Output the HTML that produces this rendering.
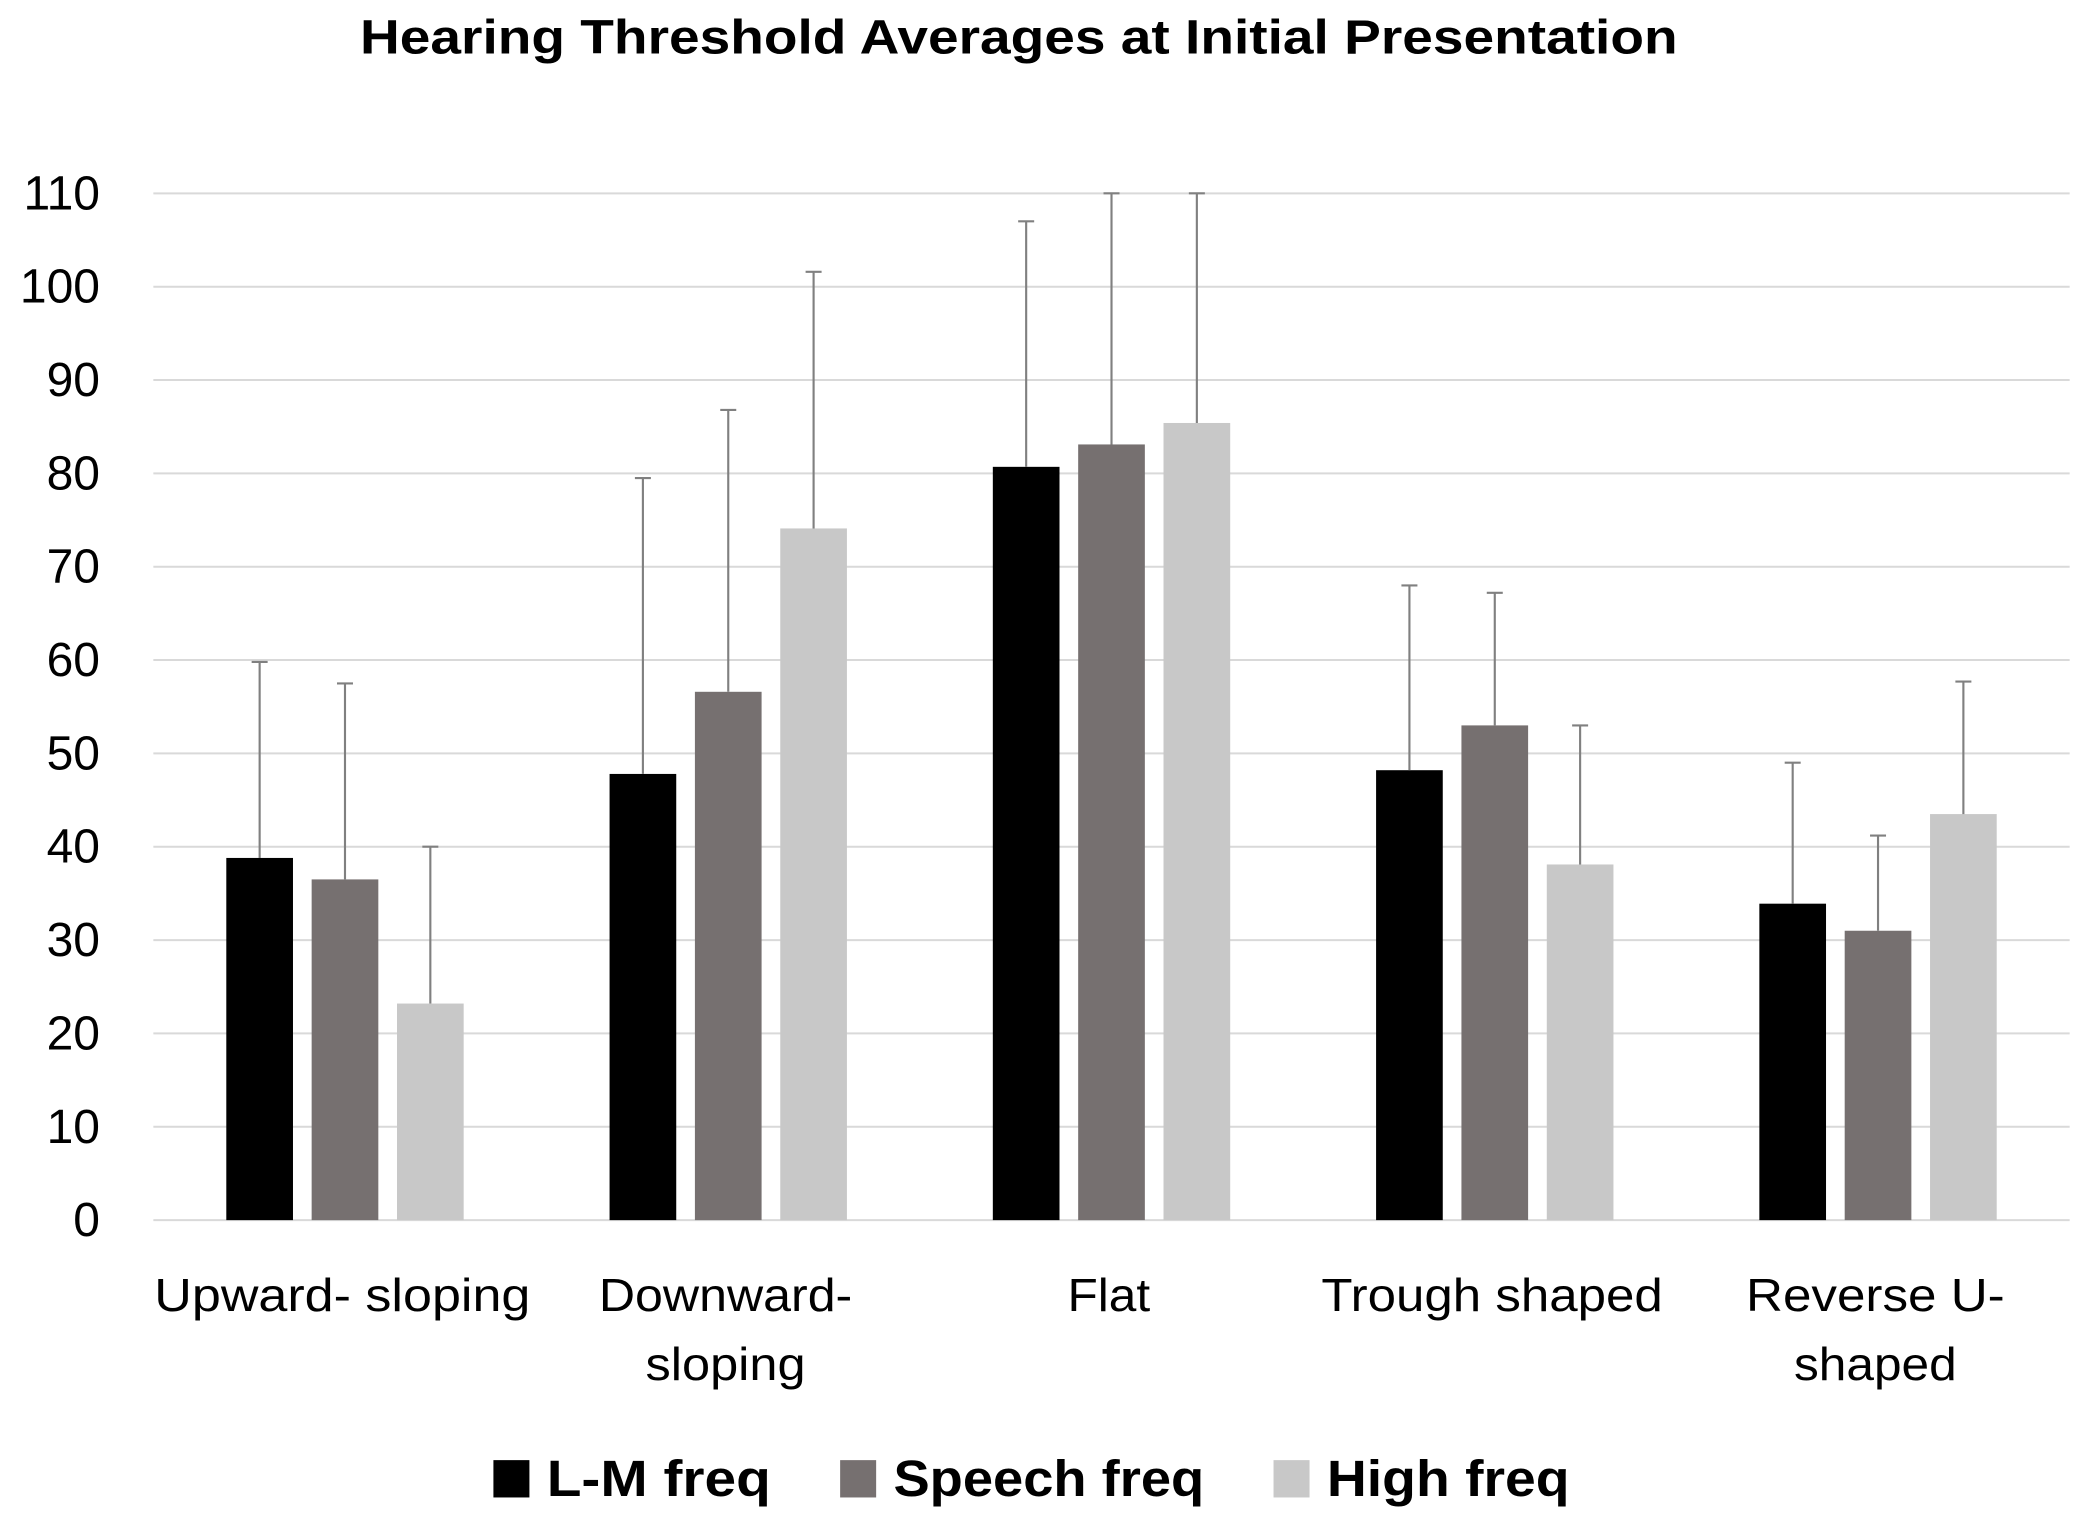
<!DOCTYPE html>
<html><head><meta charset="utf-8"><style>
html,body{margin:0;padding:0;background:#fff;}
svg{display:block;}
text{font-family:"Liberation Sans",sans-serif;}
</style></head><body>
<svg id="chart" width="2091" height="1514" viewBox="0 0 1568 1135.4" preserveAspectRatio="none" xmlns="http://www.w3.org/2000/svg">
<rect width="1568" height="1136" fill="#fff"/>
<text x="764" y="40" text-anchor="middle" font-size="36" font-weight="bold" textLength="988" lengthAdjust="spacingAndGlyphs">Hearing Threshold Averages at Initial Presentation</text>
<g id="grid"></g>
<g id="yticks"></g>
<g id="bars"></g>
<g id="xlabels"></g>
<g id="legend"></g>
</svg>
<script>
const categories = [["Upward- sloping"],["Downward-","sloping"],["Flat"],["Trough shaped"],["Reverse  U-","shaped"]];
const seriesNames = ["L-M freq","Speech freq","High freq"];
const lmValues = [38.8, 47.8, 80.7, 48.2, 33.9];
const speechValues = [36.5, 56.6, 83.1, 53.0, 31.0];
const highValues = [23.2, 74.1, 85.4, 38.1, 43.5];
const lmErrTop = [59.8, 79.5, 107, 68, 49];
const speechErrTop = [57.5, 86.8, 110, 67.2, 41.2];
const highErrTop = [40, 101.6, 110, 53, 57.7];
const yTicks = [0,10,20,30,40,50,60,70,80,90,100,110];

const NS = "http://www.w3.org/2000/svg";
const colors = ["#000000","#767070","#c8c8c8"];
const plotL = 115, plotR = 1552, y0 = 915, yTop = 145, yMax = 110;
const yScale = v => y0 - (v / yMax) * (y0 - yTop);
const catW = (plotR - plotL) / categories.length;
const barW = 50, barGap = 14;
const xBar = (ci, si) => plotL + ci * catW + (catW - (3 * barW + 2 * barGap)) / 2 + si * (barW + barGap);
const labelLens = [[282],[190,120],[62],[256],[194,122]];
function mk(tag, attrs, parent) {
  const e = document.createElementNS(NS, tag);
  for (const k in attrs) e.setAttribute(k, attrs[k]);
  parent.appendChild(e);
  return e;
}
const grid = document.getElementById('grid');
const yt = document.getElementById('yticks');
yTicks.forEach(t => {
  const l = mk('line', {x1: plotL, x2: plotR, y1: yScale(t), y2: yScale(t), stroke: '#d9d9d9', 'stroke-width': 1.5}, grid);
  
  
  const tx = mk('text', {x: 75, y: yScale(t) + 12, 'text-anchor': 'end', 'font-size': 36}, yt);
  tx.textContent = t;
  
  
});
const bars = document.getElementById('bars');
const vals = [lmValues, speechValues, highValues];
const errs = [lmErrTop, speechErrTop, highErrTop];
categories.forEach((c, ci) => {
  vals.forEach((arr, si) => {
    const x = xBar(ci, si);
    const r = mk('rect', {x: x, y: yScale(arr[ci]), width: barW, height: y0 - yScale(arr[ci]), fill: colors[si]}, bars);
    
    
    const cx = x + barW / 2;
    const ey = yScale(Math.min(errs[si][ci], yMax));
    const el = mk('line', {x1: cx, x2: cx, y1: yScale(arr[ci]), y2: ey, stroke: '#808080', 'stroke-width': 1.6}, bars);
    
    
    const cap = mk('line', {x1: cx - 6, x2: cx + 6, y1: ey, y2: ey, stroke: '#808080', 'stroke-width': 1.6}, bars);
    
    
  });
});
const xl = document.getElementById('xlabels');
categories.forEach((lines, ci) => {
  const cx = plotL + ci * catW + catW / 2 - 2;
  lines.forEach((s, li) => {
    const t = mk('text', {x: cx, y: 983 + li * 52, 'text-anchor': 'middle', 'font-size': 35, textLength: labelLens[ci][li], lengthAdjust: 'spacingAndGlyphs'}, xl);
    t.textContent = s;
    
    
  });
});
const lg = document.getElementById('legend');
const legX = [370, 630, 955];
const legTextLen = [168, 233, 182];
seriesNames.forEach((n, i) => {
  const sq = mk('rect', {x: legX[i], y: 1095, width: 27, height: 28, fill: colors[i]}, lg);
  
  
  const t = mk('text', {x: legX[i] + 40, y: 1122, 'font-size': 38, 'font-weight': 'bold', textLength: legTextLen[i], lengthAdjust: 'spacingAndGlyphs'}, lg);
  t.textContent = n;
  
  
});
</script>
</body></html>
